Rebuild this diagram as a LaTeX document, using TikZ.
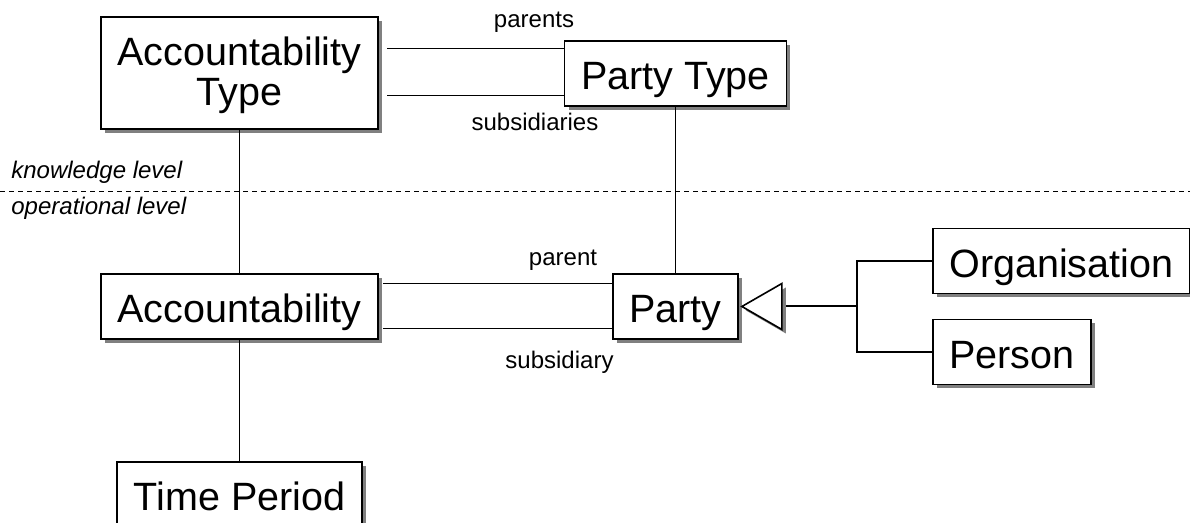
\documentclass[tikz,border=0pt]{standalone}
\usepackage{fontspec}
\setmainfont{Liberation Sans}
\usetikzlibrary{shadows,calc}
\begin{document}
\begin{tikzpicture}[x=0.5pt,y=-0.5pt,
  box/.style={draw,line width=0.8pt,fill=white,
    drop shadow={shadow xshift=2pt,shadow yshift=-2pt,fill=black!50,opacity=1},
    font=\fontsize{19.75}{20}\selectfont,align=center,
    inner xsep=8.25pt,inner ysep=4pt,text height=20.35pt,text depth=4.15pt},
  link/.style={line width=0.65pt},
  role/.style={font=\fontsize{12}{14}\selectfont,inner sep=0pt},
  level/.style={font=\fontsize{12}{14}\selectfont\itshape,inner sep=0pt,anchor=west}]
\useasboundingbox (0,0) rectangle (1190,523);
\draw[line width=0.5pt,dash pattern=on 2.5pt off 2pt] (0,192) -- (1190,192);
\node[level] (klevel) at (11,172) {knowledge level};
\node[level] (olevel) at (11,208) {operational level};
\node[box,text height=40.5pt,text depth=7.5pt] (acctype) at (239.5,73) {Accountability\\Type};
\node[box] (ptype) at (675.5,73.5) {Party Type};
\node[box] (acc) at (239.5,306.5) {Accountability};
\node[box] (party) at (675.5,306.5) {Party};
\node[box,anchor=west] (org) at (932,261) {Organisation};
\node[box,anchor=west] (person) at (932,352) {Person};
\node[box,anchor=north] (time) at (239.5,461) {Time Period};
\foreach \n/\t/\x/\y in {lparents/parents/534/22,lsubs/subsidiaries/535/122,
                         lparent/parent/563/260,lsub/subsidiary/559.5/362}
  \node[role] (\n) at (\x,\y) {\t};
\coordinate (pt1) at ($(ptype.north west)+(0,8)$);
\coordinate (pt2) at ($(ptype.south west)+(0,-11)$);
\coordinate (pa1) at ($(party.north west)+(0,10)$);
\coordinate (pa2) at ($(party.south west)+(0,-11)$);
\foreach \c in {pt1,pt2}
  \draw[link,shorten >=4pt] (\c) -- (\c -| acctype.east);
\foreach \c in {pa1,pa2}
  \draw[link,shorten >=2pt] (\c) -- (\c -| acc.east);
\draw[link] (acctype.south) -- (acc.north);
\draw[link] (acc.south) -- (time.north);
\draw[link] (ptype.south) -- (party.north);
\coordinate (gtip) at ($(party.east)+(3,0)$);
\coordinate (gbase) at ($(gtip)+(40,0)$);
\coordinate (fork) at ($(gbase)+(75,0)$);
\path[draw,line width=0.8pt,fill=white,
  drop shadow={shadow xshift=2pt,shadow yshift=-2pt,fill=black!50,opacity=1}]
  (gtip) -- ($(gbase)+(0,-23)$) -- ($(gbase)+(0,23)$) -- cycle;
\draw[line width=1pt] ($(gbase)+(4,0)$) -- (fork);
\draw[link] (org.west) -| (fork) |- (person.west);
\end{tikzpicture}
\end{document}
